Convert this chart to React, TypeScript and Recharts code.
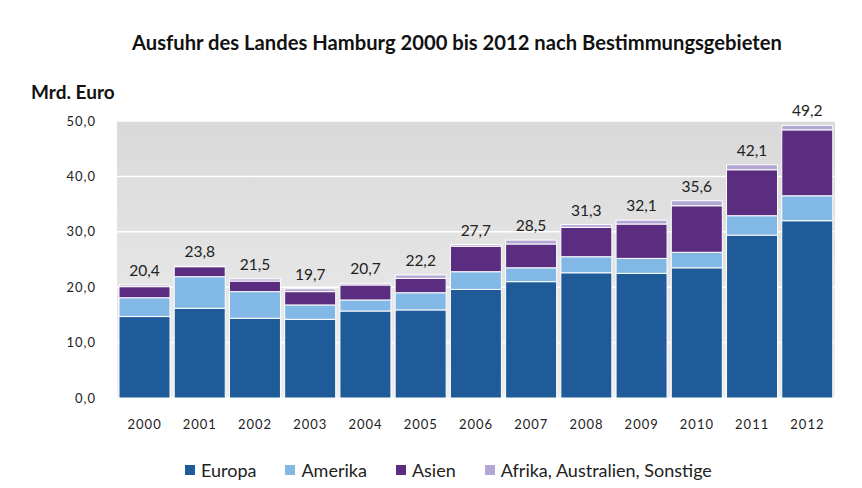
import React from "react";
import {
  BarChart,
  Bar,
  XAxis,
  YAxis,
  CartesianGrid,
  LabelList,
} from "recharts";

const jahre = ["2000", "2001", "2002", "2003", "2004", "2005", "2006", "2007", "2008", "2009", "2010", "2011", "2012"];
const europa = [14.7, 16.2, 14.4, 14.2, 15.7, 15.9, 19.6, 21.0, 22.6, 22.5, 23.5, 29.4, 32.0];
const amerika = [3.4, 5.7, 4.8, 2.6, 2.0, 3.1, 3.2, 2.5, 2.9, 2.7, 2.8, 3.5, 4.5];
const asien = [2.0, 1.8, 1.9, 2.4, 2.7, 2.6, 4.6, 4.3, 5.3, 6.2, 8.4, 8.3, 11.9];
const sonstige = [0.3, 0.1, 0.4, 0.5, 0.3, 0.6, 0.3, 0.7, 0.5, 0.7, 0.9, 0.9, 0.8];
const gesamt = [20.4, 23.8, 21.5, 19.7, 20.7, 22.2, 27.7, 28.5, 31.3, 32.1, 35.6, 42.1, 49.2];
const yTicks = [0, 10, 20, 30, 40, 50];

const serien = [
  { key: "europa", name: "Europa", color: "#1f5b98" },
  { key: "amerika", name: "Amerika", color: "#82b8e6" },
  { key: "asien", name: "Asien", color: "#5a2d80" },
  { key: "sonstige", name: "Afrika, Australien, Sonstige", color: "#b3a5d4" },
];

const data = jahre.map((jahr, i) => ({
  jahr,
  europa: europa[i],
  amerika: amerika[i],
  asien: asien[i],
  sonstige: sonstige[i],
  total: gesamt[i],
}));

const komma = (v: number) => v.toFixed(1).replace(".", ",");
const font = "Lato, 'Open Sans', sans-serif";

export default function App() {
  return (
    <div style={{ position: "absolute", left: 0, top: 0, width: 862, height: 488, background: "#fff", fontFamily: font }}>
      <div style={{ position: "absolute", top: 30, width: 862, textAlign: "center", fontSize: 20.2, fontWeight: 700, color: "#111", paddingLeft: 52, boxSizing: "border-box" }}>
        Ausfuhr des Landes Hamburg 2000 bis 2012 nach Bestimmungsgebieten
      </div>
      <div style={{ position: "absolute", top: 80, left: 31, fontSize: 19, fontWeight: 700, color: "#111" }}>
        Mrd. Euro
      </div>

      <BarChart
        width={862}
        height={488}
        data={data}
        margin={{ top: 121, right: 27, left: 0, bottom: 60 }}
        barCategoryGap={2}
      >
        <defs>
          <linearGradient id="bg" x1="0" y1="0" x2="0" y2="1">
            <stop offset="0%" stopColor="#d9d9d9" />
            <stop offset="100%" stopColor="#eeeeee" />
          </linearGradient>
        </defs>
        <CartesianGrid vertical={false} stroke="#ffffff" strokeWidth={1.5} fill="url(#bg)" />
        <XAxis
          dataKey="jahr"
          axisLine={false}
          tickLine={false}
          tickMargin={16}
          tick={{ fill: "#222", fontSize: 13, letterSpacing: 1, fontFamily: font }}
        />
        <YAxis
          width={117}
          domain={[0, 50]}
          ticks={yTicks}
          tickFormatter={komma}
          axisLine={false}
          tickLine={false}
          tickMargin={15}
          tick={{ fill: "#222", fontSize: 13, letterSpacing: 1, fontFamily: font }}
        />
        {serien.map((s, idx) => (
          <Bar
            key={s.key}
            dataKey={s.key}
            name={s.name}
            stackId="a"
            fill={s.color}
            stroke="#ffffff"
            strokeWidth={1}
            isAnimationActive={false}
          >
            {idx === serien.length - 1 && (
              <LabelList
                dataKey="total"
                position="top"
                offset={9}
                formatter={(v: any) => komma(Number(v))}
                style={{ fill: "#222", fontSize: 15.5, fontFamily: font }}
              />
            )}
          </Bar>
        ))}
      </BarChart>

      <div style={{ position: "absolute", top: 459, left: 185, display: "flex", alignItems: "center", fontSize: 18, color: "#222" }}>
        {serien.map((s) => (
          <div key={s.key} style={{ display: "flex", alignItems: "center", marginRight: 29 }}>
            <span style={{ width: 10, height: 10, background: s.color, display: "inline-block", marginRight: 6 }} />
            <span>{s.name}</span>
          </div>
        ))}
      </div>
    </div>
  );
}
